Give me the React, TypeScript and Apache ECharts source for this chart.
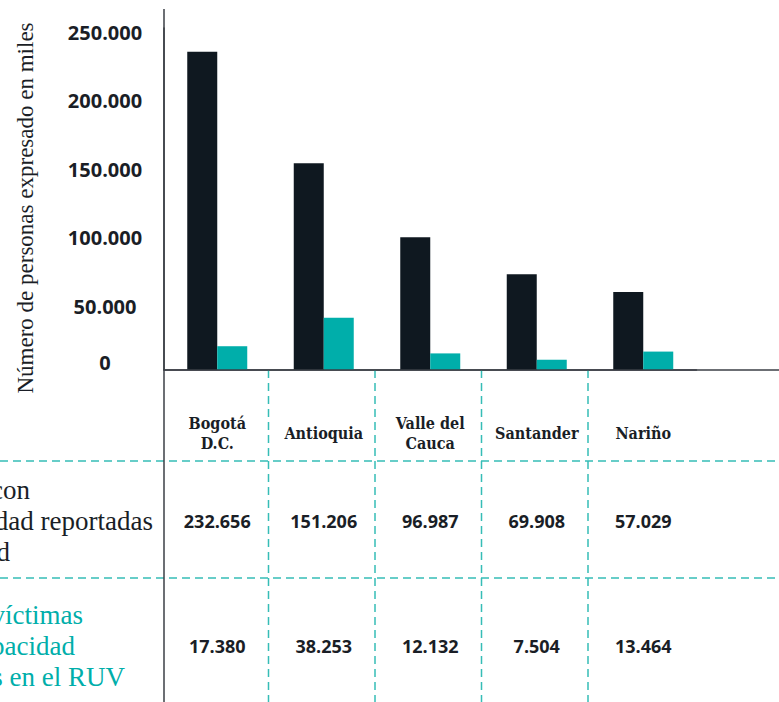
import React, { useEffect, useRef } from "react";
import * as echarts from "echarts";

// ---- data ----
const categories = ["Bogotá\nD.C.", "Antioquia", "Valle del\nCauca", "Santander", "Nariño"];
const reportadas = [232656, 151206, 96987, 69908, 57029];
const victimasRUV = [17380, 38253, 12132, 7504, 13464];
const yTicks = [0, 50000, 100000, 150000, 200000, 250000];
const rowHeader1 = ["Personas con", "discapacidad reportadas", "por entidad"];
const rowHeader2 = ["Personas víctimas", "con discapacidad", "registradas en el RUV"];
const yTitle = "Número de personas expresado en miles";

// ---- layout ----
const W = 779;
const H = 702;
const GRID_LEFT = 164;
const GRID_TOP = 28;
const AXIS_Y = 370;
const CAT_W = 106.5;
const GRID_RIGHT = W - (GRID_LEFT + CAT_W * categories.length);
const ROW_Y = [521, 646];
const HLINES = [461, 578];
const LINE_GAP = 31;
const HEADER1_ENDS = [30, 153, 10];
const HEADER2_ENDS = [83, 75, 125];

const DARK = "#0f1820";
const TEAL = "#00aeaa";
const DASH = "#36bdb6";
const AXIS = "#3b3f46";
const TEXT = "#1a1e26";
const SERIF = '"Liberation Serif", "DejaVu Serif", serif';
const SANS = '"Open Sans", "Noto Sans", sans-serif';
const SLAB = '"DejaVu Serif Condensed", "DejaVu Serif", serif';

const fmt = (n: number) => String(n).replace(/\B(?=(\d{3})+(?!\d))/g, ".");

export default function App() {
  const ref = useRef<HTMLDivElement>(null);

  useEffect(() => {
    if (!ref.current) return;
    const chart = echarts.init(ref.current, undefined, { renderer: "svg" });

    const graphics: any[] = [];
    // table dashed lines
    HLINES.forEach((y) =>
      graphics.push({
        type: "line",
        z: 1,
        shape: { x1: 0, y1: y, x2: W, y2: y },
        style: { stroke: DASH, lineWidth: 1.5, lineDash: [8, 5] },
      })
    );
    for (let i = 1; i < categories.length; i++) {
      const x = GRID_LEFT + i * CAT_W - 2;
      graphics.push({
        type: "line",
        z: 1,
        shape: { x1: x, y1: AXIS_Y, x2: x, y2: H },
        style: { stroke: DASH, lineWidth: 1.5, lineDash: [8, 5] },
      });
    }
    // axis lines (extended)
    graphics.push({
      type: "line",
      z: 5,
      shape: { x1: GRID_LEFT, y1: 9, x2: GRID_LEFT, y2: H },
      style: { stroke: AXIS, lineWidth: 1.5 },
    });
    graphics.push({
      type: "line",
      z: 5,
      shape: { x1: GRID_LEFT, y1: AXIS_Y, x2: W, y2: AXIS_Y },
      style: { stroke: AXIS, lineWidth: 1.5 },
    });
    // y title
    graphics.push({
      type: "text",
      x: 25,
      y: 208,
      rotation: Math.PI / 2,
      style: {
        text: yTitle,
        fontFamily: SERIF,
        fontSize: 23,
        fill: TEXT,
        align: "center",
        verticalAlign: "middle",
      },
    });
    // table values
    [reportadas, victimasRUV].forEach((vals, r) => {
      vals.forEach((v, i) => {
        graphics.push({
          type: "text",
          x: GRID_LEFT + (i + 0.5) * CAT_W,
          y: ROW_Y[r],
          style: {
            text: fmt(v),
            fontFamily: SANS,
            fontWeight: "bold",
            fontSize: 18,
            fill: TEXT,
            align: "center",
            verticalAlign: "middle",
          },
        });
      });
    });
    // row headers (clipped at the left edge)
    [
      { lines: rowHeader1, ends: HEADER1_ENDS, color: TEXT },
      { lines: rowHeader2, ends: HEADER2_ENDS, color: TEAL },
    ].forEach((h, r) => {
      h.lines.forEach((t, k) => {
        graphics.push({
          type: "text",
          x: h.ends[k],
          y: ROW_Y[r] + (k - 1) * LINE_GAP,
          style: {
            text: t,
            fontFamily: SERIF,
            fontSize: 27,
            fill: h.color,
            align: "right",
            verticalAlign: "middle",
          },
        });
      });
    });

    chart.setOption({
      animation: false,
      backgroundColor: "#ffffff",
      grid: {
        left: GRID_LEFT,
        right: GRID_RIGHT,
        top: GRID_TOP,
        bottom: H - AXIS_Y,
        containLabel: false,
      },
      xAxis: {
        type: "category",
        data: categories,
        axisLine: { show: true, lineStyle: { color: AXIS, width: 1.5 } },
        axisTick: { show: false },
        axisLabel: {
          interval: 0,
          margin: 63,
          verticalAlign: "middle",
          fontFamily: SLAB,
          fontWeight: "bold",
          fontSize: 16,
          lineHeight: 20,
          color: TEXT,
        },
      },
      yAxis: {
        type: "value",
        min: yTicks[0],
        max: yTicks[yTicks.length - 1],
        interval: yTicks[1] - yTicks[0],
        axisLine: { show: true, lineStyle: { color: AXIS, width: 1.5 } },
        axisTick: { show: false },
        splitLine: { show: false },
        axisLabel: {
          formatter: (v: number) => (v === 0 ? `{z|${fmt(v)}}` : `{v|${fmt(v)}}`),
          align: "center",
          margin: 59,
          color: TEXT,
          fontFamily: SANS,
          fontWeight: "bold",
          fontSize: 20,
          rich: {
            v: {
              fontFamily: SANS,
              fontWeight: "bold",
              fontSize: 20,
              color: TEXT,
              padding: [9, 0, 0, 0],
            },
            z: {
              fontFamily: SANS,
              fontWeight: "bold",
              fontSize: 20,
              color: TEXT,
              padding: [0, 0, 16, 0],
            },
          },
        },
      },
      series: [
        {
          name: rowHeader1.join(" "),
          type: "bar",
          data: reportadas,
          barWidth: 30,
          barGap: "0%",
          itemStyle: { color: DARK },
        },
        {
          name: rowHeader2.join(" "),
          type: "bar",
          data: victimasRUV,
          barWidth: 30,
          itemStyle: { color: TEAL },
        },
      ],
      graphic: graphics,
    });

    return () => chart.dispose();
  }, []);

  return (
    <div
      ref={ref}
      style={{ position: "fixed", left: 0, top: 0, width: W, height: H, background: "#fff" }}
    />
  );
}
